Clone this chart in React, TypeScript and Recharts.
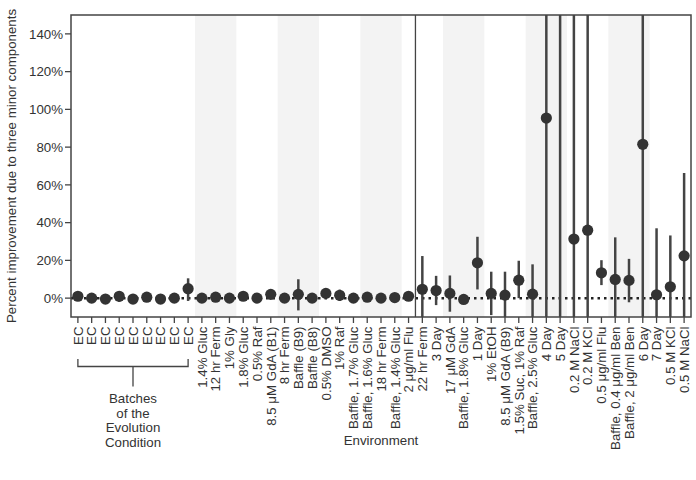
import { ComposedChart, Scatter, ErrorBar, XAxis, YAxis, ReferenceArea, ReferenceLine } from 'recharts'

const categories = [
  'EC', 'EC', 'EC', 'EC', 'EC', 'EC', 'EC', 'EC', 'EC',
  '1.4% Gluc', '12 hr Ferm', '1% Gly', '1.8% Gluc', '0.5% Raf', '8.5 μM GdA (B1)', '8 hr Ferm',
  'Baffle (B9)', 'Baffle (B8)', '0.5% DMSO', '1% Raf', 'Baffle, 1.7% Gluc', 'Baffle, 1.6% Gluc',
  '18 hr Ferm', 'Baffle, 1.4% Gluc', '2 μg/ml Flu',
  '22 hr Ferm', '3 Day', '17 μM GdA', 'Baffle, 1.8% Gluc', '1 Day', '1% EtOH', '8.5 μM GdA (B9)',
  '1.5% Suc, 1% Raf', 'Baffle, 2.5% Gluc', '4 Day', '5 Day', '0.2 M NaCl', '0.2 M KCl',
  '0.5 μg/ml Flu', 'Baffle, 0.4 μg/ml Ben', 'Baffle, 2 μg/ml Ben', '6 Day', '7 Day', '0.5 M KCl', '0.5 M NaCl',
]

// point estimate (%)
const values = [
  1, 0, -0.5, 1, -0.5, 0.5, -0.5, 0, 5,
  0, 0.5, 0, 1, 0, 2, 0, 2, 0, 2.5, 1.5, 0, 0.5, 0, 0.3, 1,
  4.7, 4, 2.5, -0.7, 18.7, 2.5, 1.6, 9.5, 2.1, 95.4, 200, 31.3, 36,
  13.4, 9.9, 9.4, 81.5, 1.8, 6, 22.4,
]
// lower / upper ends of the error bars (%)
const lower = [
  -1, -1, -3, -2, -2, -0.5, -1.5, -0.5, -1.5,
  -1, -0.5, -1, -1, -2.5, -0.5, -1, -6.5, -0.5, 1, -1.5, -1, -1, -1, -0.5, -0.5,
  -20, -3.7, -7.2, -1.5, 4.6, -9, -20, 0, -20, -50, -50, -50, -50,
  6.9, -20, -2.2, -50, -20, -20, -20,
]
const upper = [
  3, 1, 2, 3.5, 1, 1.5, 0.5, 0.5, 10.5,
  1, 1.5, 1, 3, 2.5, 4.5, 1, 10, 0.5, 4, 4.5, 1, 2, 1, 1, 2.5,
  22.3, 11.8, 12, 0, 32.5, 14, 14, 19.8, 17.9, 300, 400, 300, 300,
  20.1, 32.2, 20.8, 300, 37, 33.2, 66.3,
]

const yTicks = [0, 20, 40, 60, 80, 100, 120, 140]
// shaded groups of environments [first, last]
const bands = [[9, 11], [15, 17], [21, 23], [27, 29], [33, 35], [39, 41]]

const rows = categories.map((name, i) => ({
  i,
  name,
  v: values[i],
  err: [values[i] - lower[i], upper[i] - values[i]],
}))

const W = 696
const H = 480
const plot = { left: 71, top: 15, right: 691, bottom: 317 }
const step = (plot.right - plot.left) / categories.length
const font = '"Liberation Sans", Arial, sans-serif'
const ink = '#333'
const fs = 13.3

function XTick({ x, y, payload }: any) {
  return (
    <g transform={`translate(${x},${y})`}>
      <text transform="rotate(-90)" x={-1.5} y={0} dy="0.36em" textAnchor="end" fontSize={fs} fill={ink} fontFamily={font}>
        {categories[payload.value]}
      </text>
    </g>
  )
}

export default function App() {
  const bx0 = plot.left + step * 0.5
  const bx1 = plot.left + step * 8.5
  const bmid = (bx0 + bx1) / 2
  return (
    <div style={{ position: 'absolute', left: 0, top: 0, width: W, height: H, background: '#fff' }}>
      <style>{`.recharts-scatter, .recharts-errorBars, .recharts-errorBar { clip-path: url(#plotClip); }`}</style>
      <ComposedChart width={W} height={H} data={rows} margin={{ top: 15, right: 5, bottom: 0, left: 0 }}>
        {bands.map(([a, b]) => (
          <ReferenceArea key={a} x1={a - 0.5} x2={b + 0.5} y1={-10} y2={150} fill="#f3f3f3" fillOpacity={1} stroke="none" />
        ))}
        <XAxis
          dataKey="i"
          type="number"
          domain={[-0.5, categories.length - 0.5]}
          ticks={categories.map((_, i) => i)}
          interval={0}
          height={163}
          axisLine={false}
          tickLine={{ stroke: '#444', strokeWidth: 1.3 }}
          tickSize={6}
          tick={<XTick />}
        />
        <YAxis
          type="number"
          domain={[-10, 150]}
          allowDataOverflow
          ticks={yTicks}
          tickFormatter={(v: number) => `${v}%`}
          width={71}
          axisLine={false}
          tickLine={{ stroke: '#444', strokeWidth: 1.3 }}
          tickSize={6}
          tick={{ fontSize: fs, fill: ink, fontFamily: font }}
        />
        <ReferenceLine y={0} stroke="#222" strokeWidth={2.5} strokeDasharray="2.5 4" />
        <ReferenceLine x={24.5} stroke="#444" strokeWidth={1.3} />
        <Scatter dataKey="v" fill="#333" isAnimationActive={false} shape={(p: any) => <circle cx={p.cx} cy={p.cy} r={5.6} fill="#333" />}>
          <ErrorBar dataKey="err" direction="y" width={0} stroke="#444" strokeWidth={2.5} isAnimationActive={false} />
        </Scatter>
      </ComposedChart>
      <svg width={W} height={H} style={{ position: 'absolute', left: 0, top: 0, pointerEvents: 'none' }} fontFamily={font}>
        <defs>
          <clipPath id="plotClip" clipPathUnits="userSpaceOnUse">
            <rect x={plot.left} y={plot.top} width={plot.right - plot.left} height={plot.bottom - plot.top} />
          </clipPath>
        </defs>
        <rect x={plot.left} y={plot.top} width={plot.right - plot.left} height={plot.bottom - plot.top} fill="none" stroke="#444" strokeWidth={1.5} />
        <path d={`M${bx0},359 V366.5 H${bx1} V359 M${bmid},366.5 V386.5`} fill="none" stroke="#444" strokeWidth={1.3} />
        {['Batches', 'of the', 'Evolution', 'Condition'].map((t, k) => (
          <text key={t} x={bmid} y={403 + k * 14.7} textAnchor="middle" fontSize={fs} fill={ink}>
            {t}
          </text>
        ))}
        <text x={(plot.left + plot.right) / 2} y={445} textAnchor="middle" fontSize={fs} fill={ink}>
          Environment
        </text>
        <text
          transform={`translate(11,${(plot.top + plot.bottom) / 2}) rotate(-90)`}
          textAnchor="middle"
          dy="0.36em"
          fontSize={fs}
          fill={ink}
        >
          Percent improvement due to three minor components
        </text>
      </svg>
    </div>
  )
}
